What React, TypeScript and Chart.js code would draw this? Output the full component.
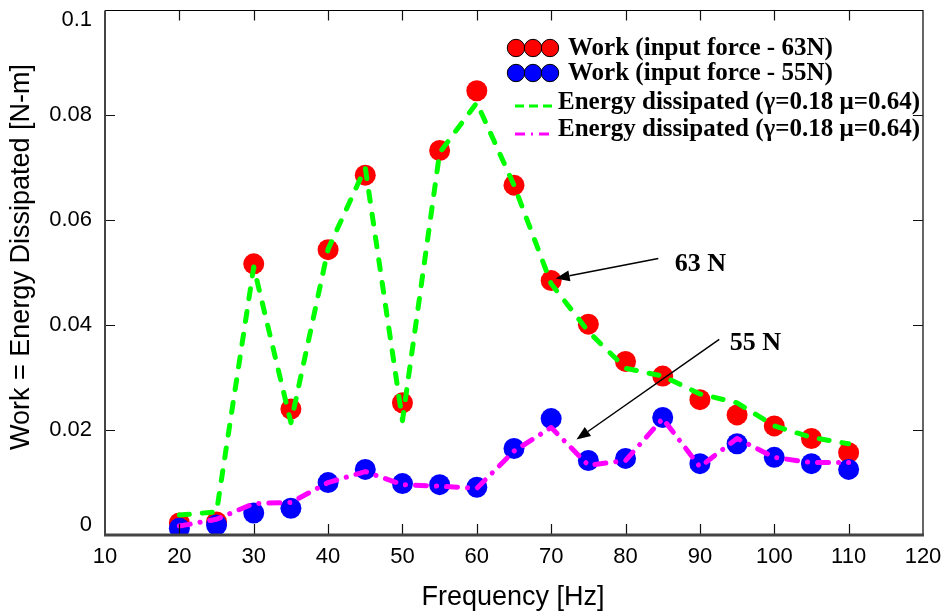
import React, { useEffect, useRef } from "react";
import { Chart, registerables } from "chart.js";

Chart.register(...registerables);

const frequencies = [20, 25, 30, 35, 40, 45, 50, 55, 60, 65, 70, 75, 80, 85, 90, 95, 100, 105, 110];
const work63 = [0.0023, 0.0025, 0.0517, 0.024, 0.0544, 0.0686, 0.0252, 0.0733, 0.0847, 0.0667, 0.0485, 0.0402, 0.0331, 0.0303, 0.0258, 0.0229, 0.0208, 0.0184, 0.0157];
const work55 = [0.0013, 0.0019, 0.0042, 0.0051, 0.01, 0.0125, 0.0098, 0.0096, 0.0091, 0.0165, 0.0222, 0.0142, 0.0146, 0.0224, 0.0136, 0.0174, 0.0148, 0.0136, 0.0125];
const energy63 = [0.0038, 0.0044, 0.0511, 0.0214, 0.0545, 0.07, 0.0218, 0.0729, 0.0824, 0.0667, 0.0479, 0.0388, 0.0318, 0.0303, 0.0269, 0.0252, 0.0208, 0.0186, 0.0174];
const energy55 = [0.0017, 0.003, 0.006, 0.0062, 0.01, 0.0121, 0.0096, 0.0093, 0.0089, 0.016, 0.0205, 0.0133, 0.0142, 0.0222, 0.013, 0.0184, 0.0148, 0.0138, 0.0138];

const xTickValues = [10, 20, 30, 40, 50, 60, 70, 80, 90, 100, 110, 120];
const yTickValues = [0, 0.02, 0.04, 0.06, 0.08, 0.1];
const yTickLabels = ["0", "0.02", "0.04", "0.06", "0.08", "0.1"];

const legendLabels = [
  "Work (input force - 63N)",
  "Work (input force - 55N)",
  "Energy dissipated (\u03b3=0.18 \u03bc=0.64)",
  "Energy dissipated (\u03b3=0.18 \u03bc=0.64)",
];

const xTitle = "Frequency [Hz]";
const yTitle = "Work = Energy Dissipated [N-m]";

// annotation anchors in data coordinates
const note63 = { text: "63 N", tx: 86.6, ty: 0.0517, fromX: 84.4, fromY: 0.0527, toX: 70.6, toY: 0.0489 };
const note55 = { text: "55 N", tx: 94.0, ty: 0.0366, fromX: 92.6, fromY: 0.0373, toX: 73.4, toY: 0.0182 };

const RED = "#ff0000";
const BLUE = "#0000ff";
const GREEN = "#00ff00";
const MAGENTA = "#ff00ff";

const pts = (ys: number[]) => frequencies.map((x, i) => ({ x, y: ys[i] }));

function drawArrow(ctx: CanvasRenderingContext2D, x1: number, y1: number, x2: number, y2: number) {
  ctx.save();
  ctx.strokeStyle = "#000";
  ctx.fillStyle = "#000";
  ctx.lineWidth = 1.5;
  const ang = Math.atan2(y2 - y1, x2 - x1);
  const hl = 14;
  const hw = 5.5;
  const bx = x2 - hl * Math.cos(ang);
  const by = y2 - hl * Math.sin(ang);
  ctx.beginPath();
  ctx.moveTo(x1, y1);
  ctx.lineTo(bx, by);
  ctx.stroke();
  ctx.beginPath();
  ctx.moveTo(x2, y2);
  ctx.lineTo(bx + hw * Math.sin(ang), by - hw * Math.cos(ang));
  ctx.lineTo(bx - hw * Math.sin(ang), by + hw * Math.cos(ang));
  ctx.closePath();
  ctx.fill();
  ctx.restore();
}

const overlayPlugin = {
  id: "overlay",
  afterDraw(chart: any) {
    const ctx: CanvasRenderingContext2D = chart.ctx;
    const xs = chart.scales.x;
    const ys = chart.scales.y;
    const { left, right, top, bottom } = chart.chartArea;
    ctx.save();

    // frame: top and right thin black
    ctx.strokeStyle = "#000";
    ctx.lineWidth = 1.2;
    ctx.beginPath();
    ctx.moveTo(left, top);
    ctx.lineTo(right, top);
    ctx.lineTo(right, bottom);
    ctx.stroke();

    // ticks
    ctx.strokeStyle = "#111";
    ctx.lineWidth = 1.2;
    ctx.beginPath();
    for (const v of xTickValues) {
      if (v === xTickValues[0] || v === xTickValues[xTickValues.length - 1]) continue;
      const px = Math.round(xs.getPixelForValue(v)) + 0.5;
      ctx.moveTo(px, bottom);
      ctx.lineTo(px, bottom - 11);
      ctx.moveTo(px, top);
      ctx.lineTo(px, top + 10);
    }
    for (const v of yTickValues) {
      if (v === yTickValues[0] || v === yTickValues[yTickValues.length - 1]) continue;
      const py = Math.round(ys.getPixelForValue(v)) + 0.5;
      ctx.moveTo(left, py);
      ctx.lineTo(left + 10, py);
      ctx.moveTo(right, py);
      ctx.lineTo(right - 10, py);
    }
    ctx.stroke();

    // left & bottom axis lines (dark gray, thicker)
    ctx.strokeStyle = "#444";
    ctx.lineWidth = 2;
    ctx.beginPath();
    ctx.moveTo(left, top);
    ctx.lineTo(left, bottom);
    ctx.stroke();
    ctx.lineWidth = 3;
    ctx.beginPath();
    ctx.moveTo(left - 1, bottom);
    ctx.lineTo(right + 1, bottom);
    ctx.stroke();

    // tick labels
    ctx.fillStyle = "#000";
    ctx.font = '22px "Liberation Sans", Arial, sans-serif';
    ctx.textAlign = "center";
    ctx.textBaseline = "middle";
    for (const v of xTickValues) {
      ctx.fillText(String(v), xs.getPixelForValue(v), bottom + 22);
    }
    ctx.textAlign = "right";
    yTickValues.forEach((v, i) => {
      let py = ys.getPixelForValue(v);
      if (i === 0) py -= 10;
      if (i === yTickValues.length - 1) py += 9;
      ctx.fillText(yTickLabels[i], left - 13, py);
    });

    // axis titles
    ctx.font = '27px "Liberation Sans", Arial, sans-serif';
    ctx.textAlign = "center";
    ctx.fillText(xTitle, 513, 598);
    ctx.save();
    ctx.translate(22, 257);
    ctx.rotate(-Math.PI / 2);
    ctx.fillText(yTitle, 0, 0);
    ctx.restore();

    // legend
    ctx.font = 'bold 25px "Liberation Serif", "Times New Roman", serif';
    ctx.textAlign = "left";
    ctx.textBaseline = "middle";
    const circleRows = [
      { y: 48, color: RED },
      { y: 73, color: BLUE },
    ];
    circleRows.forEach((r, i) => {
      for (const cx of [516, 533, 550]) {
        ctx.beginPath();
        ctx.arc(cx, r.y, 8.7, 0, Math.PI * 2);
        ctx.fillStyle = r.color;
        ctx.fill();
        ctx.lineWidth = 1;
        ctx.strokeStyle = "#000";
        ctx.stroke();
      }
      ctx.fillStyle = "#000";
      ctx.fillText(legendLabels[i], 568, r.y + 1);
    });
    // line legends
    ctx.lineWidth = 3;
    ctx.strokeStyle = GREEN;
    ctx.setLineDash([9, 5]);
    ctx.beginPath();
    ctx.moveTo(515, 106);
    ctx.lineTo(553, 106);
    ctx.stroke();
    ctx.strokeStyle = MAGENTA;
    ctx.setLineDash([10, 6, 2, 6]);
    ctx.beginPath();
    ctx.moveTo(515, 134);
    ctx.lineTo(555, 134);
    ctx.stroke();
    ctx.setLineDash([]);
    ctx.fillStyle = "#000";
    ctx.fillText(legendLabels[2], 558, 103);
    ctx.fillText(legendLabels[3], 558, 130);

    // annotations
    ctx.font = 'bold 26px "Liberation Serif", "Times New Roman", serif';
    for (const n of [note63, note55]) {
      ctx.fillStyle = "#000";
      ctx.textAlign = "left";
      ctx.fillText(n.text, xs.getPixelForValue(n.tx), ys.getPixelForValue(n.ty));
      drawArrow(
        ctx,
        xs.getPixelForValue(n.fromX),
        ys.getPixelForValue(n.fromY),
        xs.getPixelForValue(n.toX),
        ys.getPixelForValue(n.toY)
      );
    }
    ctx.restore();
  },
};

const whiteBg = {
  id: "whiteBg",
  beforeDraw(chart: any) {
    const ctx = chart.ctx;
    ctx.save();
    ctx.fillStyle = "#fff";
    ctx.fillRect(0, 0, chart.width, chart.height);
    ctx.restore();
  },
};

export default function App() {
  const ref = useRef<HTMLCanvasElement>(null);
  useEffect(() => {
    document.body.style.margin = "0";
    const canvas = ref.current!;
    const chart = new Chart(canvas, {
      type: "line",
      data: {
        datasets: [
          {
            label: legendLabels[2],
            data: pts(energy63),
            borderColor: GREEN,
            borderWidth: 5,
            borderDash: [10, 13],
            borderCapStyle: "round",
            borderJoinStyle: "round",
            pointRadius: 0,
            fill: false,
            clip: 0 as any,
          },
          {
            label: legendLabels[3],
            data: pts(energy55),
            borderColor: MAGENTA,
            borderWidth: 5,
            borderDash: [11, 10, 0.1, 10],
            borderCapStyle: "round",
            borderJoinStyle: "round",
            pointRadius: 0,
            fill: false,
            clip: 0 as any,
          },
          {
            label: legendLabels[1],
            data: pts(work55),
            showLine: false,
            pointRadius: 10.5,
            pointBackgroundColor: BLUE,
            pointBorderWidth: 0,
            borderColor: BLUE,
            clip: 0 as any,
          },
          {
            label: legendLabels[0],
            data: pts(work63),
            showLine: false,
            pointRadius: 10.5,
            pointBackgroundColor: RED,
            pointBorderWidth: 0,
            borderColor: RED,
            clip: 0 as any,
          },
        ],
      },
      options: {
        responsive: false,
        animation: false,
        devicePixelRatio: 1,
        layout: { padding: { left: 105, right: 21, top: 7, bottom: 79 } },
        plugins: { legend: { display: false }, tooltip: { enabled: false } },
        events: [],
        scales: {
          x: { type: "linear", min: 10, max: 120, display: false },
          y: { type: "linear", min: 0, max: 0.1, display: false },
        },
      },
      plugins: [whiteBg, overlayPlugin],
    });
    return () => chart.destroy();
  }, []);
  return (
    <div style={{ width: 944, height: 614 }}>
      <canvas ref={ref} width={944} height={614} style={{ display: "block" }} />
    </div>
  );
}
